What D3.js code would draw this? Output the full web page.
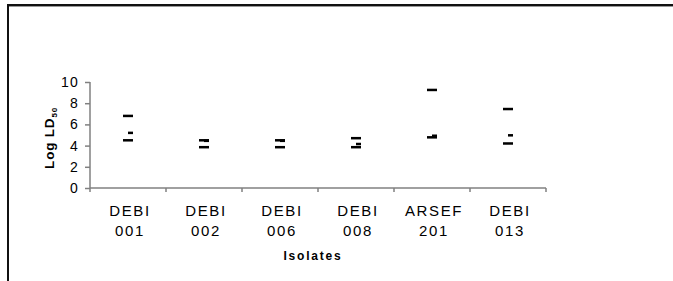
<!DOCTYPE html>
<html><head><meta charset="utf-8">
<script src="https://cdn.jsdelivr.net/npm/d3@7"></script>
<style>body{margin:0;background:#fff}svg{display:block}</style>
</head><body>
<script>
const categories = ["DEBI 001","DEBI 002","DEBI 006","DEBI 008","ARSEF 201","DEBI 013"];
const highValues = [6.8, 4.5, 4.5, 4.7, 9.25, 7.45];
const closeValues = [5.2, 4.45, 4.45, 4.15, 4.93, 4.97];
const lowValues = [4.5, 3.85, 3.85, 3.85, 4.78, 4.2];
const yTicks = [0, 2, 4, 6, 8, 10];

const W = 673, H = 281;
const FONT = "Arial, 'Liberation Sans', sans-serif";
const svg = d3.select("body").append("svg").attr("width", W).attr("height", H);

// outer frame (cropped)
svg.append("line").attr("x1", 7).attr("x2", W).attr("y1", 6.5).attr("y2", 6.5).attr("stroke", "#999").attr("stroke-width", 1);
svg.append("line").attr("x1", 7).attr("x2", W).attr("y1", 5).attr("y2", 5).attr("stroke", "#111").attr("stroke-width", 2);
svg.append("line").attr("x1", 8).attr("x2", 8).attr("y1", 4).attr("y2", H).attr("stroke", "#111").attr("stroke-width", 2);

const x = d3.scaleBand().domain(categories).range([90, 546]).paddingInner(0).paddingOuter(0);
const y = d3.scaleLinear().domain([0, 10]).range([188, 82]);

const axisColor = "#808080";
// y axis
const yAxis = svg.append("g").attr("transform", "translate(90,0)")
  .call(d3.axisLeft(y).tickValues(yTicks).tickSize(5).tickPadding(6));
yAxis.select(".domain").attr("stroke", axisColor).attr("stroke-width", 1.5).attr("d", `M0,${y(10)}V${y(0)}`);
yAxis.selectAll(".tick line").attr("stroke", axisColor).attr("stroke-width", 1.5);
yAxis.selectAll(".tick text").attr("font-family", FONT).attr("font-size", 14)
  .attr("letter-spacing", 1.2).attr("fill", "#000");

// x axis
const xg = svg.append("g");
xg.append("line").attr("x1", 90).attr("x2", 546).attr("y1", 188).attr("y2", 188).attr("stroke", axisColor).attr("stroke-width", 1.5);
const edges = categories.map(c => x(c)).concat([x(categories[categories.length-1]) + x.bandwidth()]);
xg.selectAll("line.tk").data(edges).enter().append("line").attr("class", "tk")
  .attr("x1", d => d).attr("x2", d => d).attr("y1", 188).attr("y2", 192)
  .attr("stroke", axisColor).attr("stroke-width", 1.5);
const labels = xg.selectAll("text.cat").data(categories).enter().append("text").attr("class", "cat")
  .attr("y", 215.5)
  .attr("text-anchor", "middle").attr("font-family", FONT).attr("font-size", 15)
  .attr("letter-spacing", 1.6).attr("fill", "#000");
labels.each(function(d){
  const parts = d.split(" ");
  const t = d3.select(this);
  const px = x(d) + x.bandwidth()/2 + 2;
  t.append("tspan").attr("x", px).attr("dy", 0).text(parts[0]);
  t.append("tspan").attr("x", px).attr("dy", 20).text(parts[1]);
});

// axis titles
svg.append("text").attr("x", 313).attr("y", 260).attr("text-anchor", "middle")
  .attr("font-family", FONT).attr("font-size", 12).attr("font-weight", "bold")
  .attr("letter-spacing", 1.8).text("Isolates");
const yt = svg.append("text").attr("transform", "translate(54,138) rotate(-90)").attr("text-anchor", "middle")
  .attr("font-family", FONT).attr("font-size", 13.5).attr("font-weight", "bold").attr("letter-spacing", 0.8);
yt.append("tspan").text("Log LD");
yt.append("tspan").attr("font-size", 8).attr("dy", 3).text("50");

// markers
const cx = c => x(c) + x.bandwidth()/2;
const g = svg.append("g");
g.selectAll("rect.hi").data(categories).enter().append("rect").attr("class", "hi")
  .attr("x", (d) => cx(d) - 5).attr("y", (d, i) => y(highValues[i]) - 1.25).attr("width", 10).attr("height", 2.5).attr("fill", "#000");
g.selectAll("rect.lo").data(categories).enter().append("rect").attr("class", "lo")
  .attr("x", (d) => cx(d) - 5).attr("y", (d, i) => y(lowValues[i]) - 1.25).attr("width", 10).attr("height", 2.5).attr("fill", "#000");
g.selectAll("rect.cl").data(categories).enter().append("rect").attr("class", "cl")
  .attr("x", (d) => cx(d)).attr("y", (d, i) => y(closeValues[i]) - 1.25).attr("width", 5).attr("height", 2.5).attr("fill", "#000");
</script>
</body></html>
